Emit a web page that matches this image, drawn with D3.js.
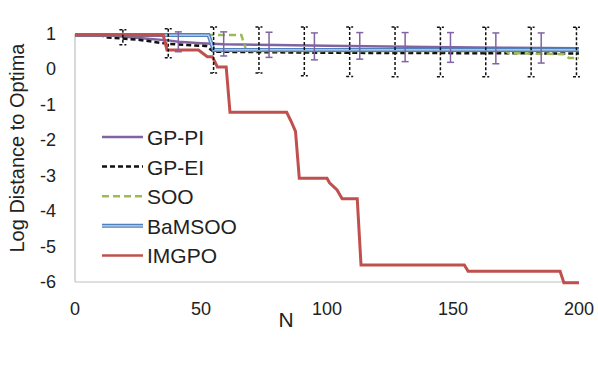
<!doctype html>
<html lang="en">
<head>
<meta charset="UTF-8" />
<title>Log Distance to Optima</title>
<script src="https://d3js.org/d3.v7.min.js"></script>
<style>
  body { margin: 0; background: #fff; }
  text { font-family: "Liberation Sans", Arial, sans-serif; fill: #222; }
</style>
</head>
<body>
<div id="graph"></div>
<script>
// series as [N, log distance] breakpoints
var gpPI = [[0,0.97],[11,0.97],[20,0.92],[30,0.86],[37,0.82],[41,0.78],[50,0.74],[59,0.71],[80,0.69],[100,0.67],[140,0.63],[170,0.61],[200,0.6]];
var gpEI = [[0,0.97],[10,0.97],[13,0.9],[25,0.84],[37,0.72],[52,0.66],[55,0.5],[100,0.47],[200,0.45]];
var soo = [[0,0.97],[66,0.97],[68,0.52],[171,0.52],[172,0.46],[194,0.43],[196,0.32],[200,0.32]];
var bamsoo = [[0,0.97],[53,0.97],[55,0.55],[200,0.55]];
var imgpo = [[0,0.97],[35,0.97],[36.5,0.55],[49,0.55],[52.5,0.36],[54.5,0.36],[56.5,0.07],[60,0.07],[61.5,-1.21],[84,-1.21],[86,-1.5],[87.5,-1.75],[89,-3.07],[100,-3.07],[101,-3.2],[104,-3.4],[106,-3.65],[112,-3.65],[113.5,-5.52],[154.5,-5.52],[156,-5.7],[192.5,-5.7],[194,-6.02],[200,-6.02]];

// error bars
var eiErrN  = [19, 37, 55, 73, 91, 109, 127, 145, 163, 181, 199];
var eiErrHi = [1.12, 1.15, 1.2, 1.2, 1.2, 1.2, 1.2, 1.19, 1.19, 1.19, 1.19];
var eiErrLo = [0.7, 0.33, -0.1, -0.1, -0.18, -0.2, -0.21, -0.21, -0.21, -0.21, -0.21];
var piErrN  = [41, 59, 77, 95, 113, 131, 149, 167, 185];
var piErrHi = [1.06, 1.06, 1.05, 1.03, 1.04, 1.04, 1.04, 1.03, 1.03];
var piErrLo = [0.5, 0.38, 0.34, 0.27, 0.29, 0.22, 0.2, 0.16, 0.18];

var xTicks = [0, 50, 100, 150, 200];
var yTicks = [1, 0, -1, -2, -3, -4, -5, -6];
var legendNames = ["GP-PI", "GP-EI", "SOO", "BaMSOO", "IMGPO"];

var width = 598, height = 381;

var svg = d3.select("#graph").append("svg")
    .attr("width", width)
    .attr("height", height);

var x = d3.scaleLinear().domain([0, 200]).range([75, 579]);
var y = d3.scaleLinear().domain([-6, 1]).range([282, 34]);

// axes lines (no ticks)
svg.append("line").attr("x1", x(0)).attr("x2", x(200)).attr("y1", y(-6)).attr("y2", y(-6))
    .attr("stroke", "#bfbfbf").attr("stroke-width", 1.2);
svg.append("line").attr("x1", x(0)).attr("x2", x(0)).attr("y1", y(1)).attr("y2", y(-6))
    .attr("stroke", "#bfbfbf").attr("stroke-width", 1.2);

svg.selectAll(".ytick").data(yTicks).enter().append("text")
    .attr("x", 56).attr("y", d => y(d) + 6)
    .attr("text-anchor", "end").style("font-size", "18px")
    .text(d => d);

svg.selectAll(".xtick").data(xTicks).enter().append("text")
    .attr("x", d => x(d)).attr("y", 315)
    .attr("text-anchor", "middle").style("font-size", "18px")
    .text(d => d);

svg.append("text").attr("x", 286).attr("y", 327)
    .attr("text-anchor", "middle").style("font-size", "21px").text("N");

svg.append("text").attr("transform", "translate(24,148) rotate(-90)")
    .attr("text-anchor", "middle").style("font-size", "20px").text("Log Distance to Optima");

var line = d3.line().x(d => x(d[0])).y(d => y(d[1]));

// error bars
function errBars(ns, his, los, color, dash, capW, sw) {
    var g = svg.append("g");
    ns.forEach(function(n, i) {
        g.append("line").attr("x1", x(n)).attr("x2", x(n)).attr("y1", y(his[i])).attr("y2", y(los[i]))
            .attr("stroke", color).attr("stroke-width", sw).attr("stroke-dasharray", dash);
        [his[i], los[i]].forEach(function(v) {
            g.append("line").attr("x1", x(n) - capW).attr("x2", x(n) + capW).attr("y1", y(v)).attr("y2", y(v))
                .attr("stroke", color).attr("stroke-width", sw).attr("stroke-dasharray", dash);
        });
    });
}

var series = [
    {data: gpPI, color: "#8064A2", w: 2.5, dash: null},
    {data: gpEI, color: "#111", w: 2.5, dash: "5,3"},
    {data: soo, color: "#9BBB59", w: 2.5, dash: "7,4"},
    {data: bamsoo, color: "#4F81BD", w: 4, dash: null, inner: "#C6D9F1"},
    {data: imgpo, color: "#C0504D", w: 3, dash: null}
];

series.forEach(function(s) {
    svg.append("path").datum(s.data).attr("d", line)
        .attr("fill", "none").attr("stroke", s.color).attr("stroke-width", s.w)
        .attr("stroke-dasharray", s.dash);
    if (s.inner) {
        svg.append("path").datum(s.data).attr("d", line)
            .attr("fill", "none").attr("stroke", s.inner).attr("stroke-width", 1.3);
    }
});

errBars(eiErrN, eiErrHi, eiErrLo, "#111", "3,2", 3.5, 1.5);
errBars(piErrN, piErrHi, piErrLo, "#8064A2", null, 3.5, 1.5);

// legend
var leg = svg.append("g");
legendNames.forEach(function(name, i) {
    var s = series[i], ly = 137 + i * 29.6;
    leg.append("line").attr("x1", 102).attr("x2", 143).attr("y1", ly).attr("y2", ly)
        .attr("stroke", s.color).attr("stroke-width", s.w === 4 ? 4 : 2.5).attr("stroke-dasharray", s.dash);
    if (s.inner) {
        leg.append("line").attr("x1", 102).attr("x2", 143).attr("y1", ly).attr("y2", ly)
            .attr("stroke", s.inner).attr("stroke-width", 1.3);
    }
    leg.append("text").attr("x", 147).attr("y", ly + 8).style("font-size", "21px").text(name);
});
</script>
</body>
</html>
